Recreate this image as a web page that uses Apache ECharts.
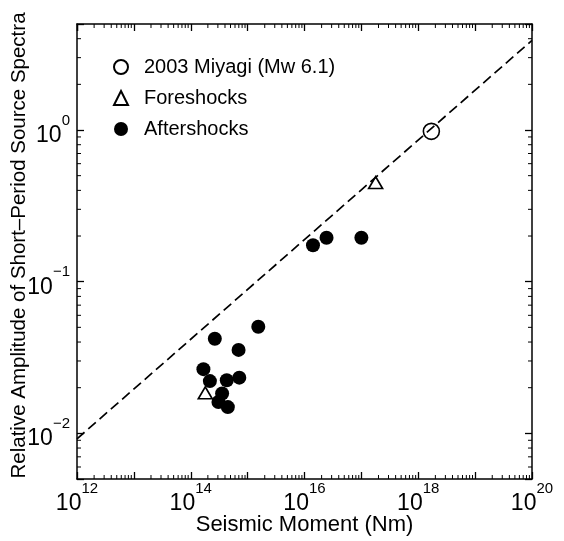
<!DOCTYPE html>
<html>
<head>
<meta charset="utf-8">
<script src="https://cdn.jsdelivr.net/npm/echarts@6/dist/echarts.min.js"></script>
<style>
  html, body { margin: 0; padding: 0; background: #fff; }
  #chart { width: 564px; height: 541px; }
</style>
</head>
<body>
<div id="chart"></div>
<script>
// ---- Data ----
const miyagi = [[1.7e18, 0.98]];
const foreshocks = [[1.78e17, 0.45], [1.8e14, 0.0185]];
const aftershocks = [
  [1.41e16, 0.174], [2.44e16, 0.195], [1.0e17, 0.195],
  [1.54e15, 0.0505], [2.65e14, 0.042], [6.93e14, 0.0355],
  [1.67e14, 0.0265], [2.17e14, 0.0221], [4.3e14, 0.0224],
  [7.14e14, 0.0233], [3.56e14, 0.0183], [3.07e14, 0.0161],
  [4.49e14, 0.0149]
];
const scalingLine = [[1e12, 0.0092], [1e20, 3.9]];

const xRange = [1e12, 1e20];
const yRange = [0.005, 5];
const xLabelExponents = [12, 14, 16, 18, 20];
const yLabelExponents = [-2, -1, 0];
const minorMultipliers = [2, 3, 4, 5, 6, 7, 8, 9];

const seriesNames = ['2003 Miyagi (Mw 6.1)', 'Foreshocks', 'Aftershocks'];
const xTitle = 'Seismic Moment (Nm)';
const yTitle = 'Relative Amplitude of Short\u2013Period Source Spectra';

// ---- minor tick positions (axis decoration) ----
function minorTicks(range) {
  const out = [];
  const e0 = Math.floor(Math.log10(range[0]));
  const e1 = Math.ceil(Math.log10(range[1]));
  for (let e = e0; e < e1; e++) {
    minorMultipliers.forEach(m => {
      const v = m * Math.pow(10, e);
      if (v > range[0] * 1.0001 && v < range[1] * 0.9999) out.push(v);
    });
  }
  return out;
}
const xMinor = minorTicks(xRange);
const yMinor = minorTicks(yRange);

const FONT = 'Liberation Sans, Arial, Helvetica, sans-serif';

function powLabel(allowed) {
  return function (v) {
    const l = Math.log10(v);
    const e = Math.round(l);
    if (Math.abs(l - e) > 1e-6 || allowed.indexOf(e) < 0) return '';
    return '{a|10}{b|' + (e < 0 ? '\u2212' + (-e) : e) + '}';
  };
}
const richLabel = {
  a: { fontSize: 23, lineHeight: 34, verticalAlign: 'bottom', fontFamily: FONT, color: '#000' },
  b: { fontSize: 15, lineHeight: 15, verticalAlign: 'top', fontFamily: FONT, color: '#000' }
};

const axisLineStyle = { show: true, lineStyle: { color: '#000', width: 1.5 } };
const majorTick = { show: true, inside: true, length: 7, lineStyle: { color: '#000', width: 1.3 } };

const chart = echarts.init(document.getElementById('chart'), null, { renderer: 'canvas' });

const option = {
  animation: false,
  backgroundColor: '#fff',
  grid: { left: 77, right: 32, top: 24, bottom: 62, containLabel: false, outerBoundsMode: 'none' },
  legend: {
    data: seriesNames,
    orient: 'vertical',
    left: 108,
    top: 52,
    itemWidth: 14,
    itemHeight: 14,
    itemGap: 11,
    textStyle: { fontSize: 20, fontFamily: FONT, color: '#000', padding: [0, 0, 0, 11] },
    selectedMode: false
  },
  xAxis: [
    {
      type: 'log', logBase: 10, min: xRange[0], max: xRange[1], splitNumber: 8,
      axisLine: axisLineStyle, axisTick: majorTick, splitLine: { show: false },
      axisLabel: { show: true, margin: 2, formatter: powLabel(xLabelExponents), rich: richLabel, showMinLabel: true, showMaxLabel: true, hideOverlap: false },
      name: xTitle, nameLocation: 'middle', nameGap: 35, nameMoveOverlap: false,
      nameTextStyle: { fontSize: 22, fontFamily: FONT, color: '#000' }
    },
    {
      type: 'log', logBase: 10, min: xRange[0], max: xRange[1], splitNumber: 8, position: 'top',
      axisLine: axisLineStyle, axisTick: majorTick, splitLine: { show: false },
      axisLabel: { show: false }
    }
  ],
  yAxis: [
    {
      type: 'log', logBase: 10, min: yRange[0], max: yRange[1], splitNumber: 3,
      axisLine: axisLineStyle, axisTick: majorTick, splitLine: { show: false },
      axisLabel: { show: true, margin: 7, formatter: powLabel(yLabelExponents), rich: richLabel, align: 'right' },
      name: yTitle, nameLocation: 'middle', nameGap: 47, nameRotate: 90, nameMoveOverlap: false,
      nameTextStyle: { fontSize: 20.5, fontFamily: FONT, color: '#000', padding: [0, 0, 0, 12] }
    },
    {
      type: 'log', logBase: 10, min: yRange[0], max: yRange[1], splitNumber: 3, position: 'right',
      axisLine: axisLineStyle, axisTick: majorTick, splitLine: { show: false },
      axisLabel: { show: false }
    }
  ],
  series: [
    {
      type: 'line', data: scalingLine, symbol: 'none', silent: true, z: 1,
      lineStyle: { color: '#000', width: 1.7, type: [10, 5] }
    },
    {
      name: seriesNames[0], type: 'scatter', data: miyagi, symbol: 'circle', symbolSize: 16, z: 3,
      itemStyle: { color: 'rgba(255,255,255,0)', borderColor: '#000', borderWidth: 1.6, opacity: 1 }
    },
    {
      name: seriesNames[1], type: 'scatter', data: foreshocks, symbol: 'triangle', symbolSize: [14, 12], z: 3,
      itemStyle: { color: 'rgba(255,255,255,0)', borderColor: '#000', borderWidth: 1.6, opacity: 1 }
    },
    {
      name: seriesNames[2], type: 'scatter', data: aftershocks, symbol: 'circle', symbolSize: 14, z: 3,
      itemStyle: { color: '#000', borderWidth: 0, opacity: 1 }
    },
    {
      type: 'custom', silent: true, z: 4,
      data: xMinor.map(v => [v, yRange[0]]),
      renderItem: function (params, api) {
        const v = api.value(0);
        const b = api.coord([v, yRange[0]]);
        const t = api.coord([v, yRange[1]]);
        return { type: 'group', children: [
          { type: 'line', shape: { x1: b[0], y1: b[1], x2: b[0], y2: b[1] - 4 }, style: { stroke: '#000', lineWidth: 1 } },
          { type: 'line', shape: { x1: t[0], y1: t[1], x2: t[0], y2: t[1] + 4 }, style: { stroke: '#000', lineWidth: 1 } }
        ] };
      }
    },
    {
      type: 'custom', silent: true, z: 4,
      data: yMinor.map(v => [xRange[0], v]),
      renderItem: function (params, api) {
        const v = api.value(1);
        const l = api.coord([xRange[0], v]);
        const r = api.coord([xRange[1], v]);
        return { type: 'group', children: [
          { type: 'line', shape: { x1: l[0], y1: l[1], x2: l[0] + 4, y2: l[1] }, style: { stroke: '#000', lineWidth: 1 } },
          { type: 'line', shape: { x1: r[0], y1: r[1], x2: r[0] - 4, y2: r[1] }, style: { stroke: '#000', lineWidth: 1 } }
        ] };
      }
    }
  ]
};
chart.setOption(option);
</script>
</body>
</html>
